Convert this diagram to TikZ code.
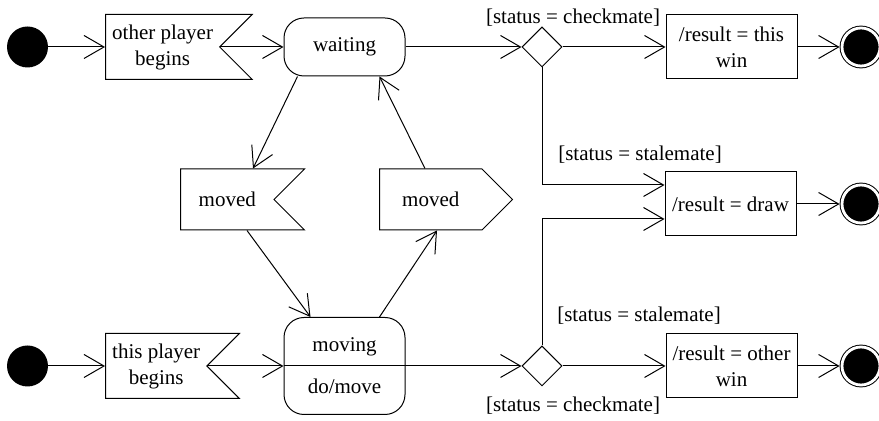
\documentclass[tikz,border=0pt]{standalone}
\usepackage{fontspec}
\setmainfont{Liberation Serif}
\newfontfamily\umlfont{Liberation Serif}
\usetikzlibrary{positioning, calc, arrows.meta, shapes.geometric, shapes.symbols}

\begin{document}
\begin{tikzpicture}[x=0.5pt, y=-0.5pt,
  every node/.style={font=\umlfont\fontsize{10.5}{13}\selectfont},
  start/.style={circle, fill=black, minimum size=20.5pt, inner sep=0pt},
  stop/.style={circle, fill=black, draw=black, line width=0.5pt,
    double=white, double distance=1.4pt, minimum size=19pt,
    inner sep=0pt, outer sep=1.2pt},
  state/.style={rectangle, rounded corners=10pt, draw, line width=0.5pt,
    minimum width=60.5pt, minimum height=29pt, align=center},
  action/.style={rectangle, draw, line width=0.5pt,
    minimum width=65.5pt, minimum height=32pt, align=center, inner sep=1pt},
  choice/.style={diamond, draw, line width=0.5pt, minimum size=20pt, inner sep=0pt},
  recv/.style={signal, signal to=nowhere, signal from=east,
    signal pointer angle=90, draw, line width=0.5pt, align=center},
  send/.style={signal, signal to=east, signal pointer angle=90, draw,
    line width=0.5pt, align=center},
  guard/.style={inner sep=1pt},
  flow/.style={-{Straight Barb[length=10pt, width=11.5pt]}, line width=0.5pt}
]
\useasboundingbox (0,0) rectangle (879,421);

%% ── other player begins (top) ───────────────────────────────────────
\node[start] (ini1) at (27.5,47) {};
\node[recv, minimum width=66.5pt, minimum height=32.5pt, anchor=west]
  (opb) at (105,47) {other player\\begins};
\node[state] (waiting) at (344.5,47) {waiting};
\node[choice] (d1) at (542,47) {};
\node[action] (rthis) at (731.5,47) {/result = this\\win};
\node[stop] (fin1) at (861,47) {};

\draw[flow] (ini1) -- (opb.west);
\draw[flow] (opb.east) -- (waiting.west);
\draw[flow] (waiting.east) -- (d1.west);
\draw[flow] (d1.east) -- (rthis.west);
\draw[flow] (rthis.east) -- (fin1);
\node[guard] (g1) at (573,18) {[status = checkmate]};

%% ── signals (middle) ─────────────────────────────────────────────────
\node[recv, minimum width=62pt, minimum height=30.5pt, anchor=west]
  (mvin) at (180,199.5) {moved};
\node[send, minimum width=66.5pt, minimum height=30.5pt, anchor=west]
  (mvout) at (379,199.5) {moved};
\node[action] (rdraw) at (730.5,204) {/result = draw};
\node[stop] (fin2) at (861,204) {};

\draw[flow] (rdraw.east) -- (fin2);
\node[guard] (g2) at (640,155) {[status = stalemate]};

%% ── this player begins (bottom) ─────────────────────────────────────
\node[start] (ini2) at (27.5,366) {};
\node[recv, minimum width=66.5pt, minimum height=32.5pt, anchor=west]
  (tpb) at (105,366) {this player\\begins};
\node[state, minimum height=48.5pt] (moving) at (344.5,366) {moving\\[8pt]do/move};
\node[choice] (d2) at (542,366) {};
\node[action] (rother) at (731.5,366) {/result = other\\win};
\node[stop] (fin3) at (861,366) {};

\draw[line width=0.5pt] (moving.west) -- (moving.east);
\draw[flow] (ini2) -- (tpb.west);
\draw[flow] (tpb.east) -- (moving.west);
\draw[flow] (moving.east) -- (d2.west);
\draw[flow] (d2.east) -- (rother.west);
\draw[flow] (rother.east) -- (fin3);
\node[guard] (g3) at (639,316) {[status = stalemate]};
\node[guard] (g4) at (573,406) {[status = checkmate]};

%% ── stalemate branches ───────────────────────────────────────────────
\draw[flow] (d1.south) |- ($(rdraw.west)+(0,-19)$);
\draw[flow] (d2.north) |- ($(rdraw.west)+(0,15)$);

%% ── waiting <-> moving ───────────────────────────────────────────────
\draw[flow] ($(waiting.south west)+(14,0)$) -- ($(mvin.north west)+(73,0)$);
\draw[flow] ($(mvin.south west)+(67,0)$) -- ($(moving.north west)+(27,0)$);
\draw[flow] ($(moving.north west)+(96,0)$) -- ($(mvout.south west)+(58,0)$);
\draw[flow] ($(mvout.north west)+(46,0)$) -- ($(waiting.south west)+(96,0)$);

\end{tikzpicture}
\end{document}
